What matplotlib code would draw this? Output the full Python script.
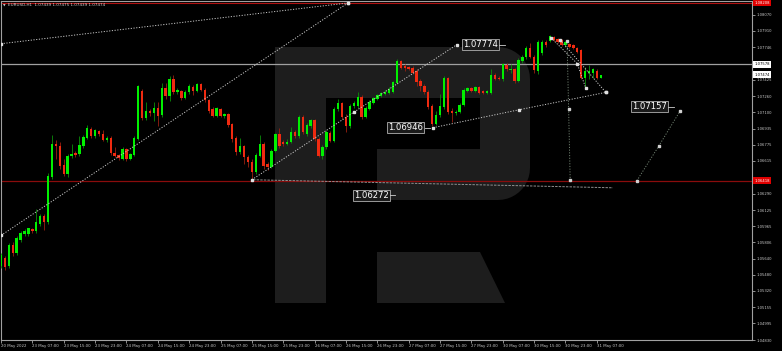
import matplotlib
matplotlib.use("Agg")
import matplotlib.pyplot as plt
import numpy as np
from matplotlib.patches import Polygon
from matplotlib.transforms import blended_transform_factory

# EURUSD H1, bars from 20 May 23:00 to 31 May 08:00
opens = [
    1.05565, 1.05645, 1.05565, 1.05773, 1.05694, 1.05823, 1.05882, 1.05882, 1.05932, 1.05912,
    1.05991, 1.06070, 1.06011, 1.06456, 1.06783, 1.06763, 1.06575, 1.06486, 1.06664, 1.06694,
    1.06684, 1.06763, 1.06842, 1.06932, 1.06862, 1.06912, 1.06882, 1.06823, 1.06842, 1.06694,
    1.06674, 1.06635, 1.06734, 1.06635, 1.06674, 1.06833, 1.07308, 1.07040, 1.07110, 1.07090,
    1.07139, 1.07070, 1.07337, 1.07258, 1.07427, 1.07298, 1.07308, 1.07238, 1.07298, 1.07347,
    1.07308, 1.07377, 1.07318, 1.07219, 1.07130, 1.07060, 1.07130, 1.07060, 1.07080, 1.06981,
    1.06842, 1.06704, 1.06763, 1.06654, 1.06605, 1.06506, 1.06664, 1.06783, 1.06585, 1.06555,
    1.06714, 1.06882, 1.06803, 1.06783, 1.06803, 1.06902, 1.06862, 1.07050, 1.06882, 1.06961,
    1.07021, 1.06833, 1.06664, 1.06753, 1.06892, 1.06813, 1.07130, 1.07189, 1.07050, 1.06961,
    1.07159, 1.07159, 1.07248, 1.07050, 1.07130, 1.07189, 1.07229, 1.07258, 1.07278, 1.07288,
    1.07298, 1.07387, 1.07615, 1.07565, 1.07555, 1.07545, 1.07506, 1.07407, 1.07357, 1.07298,
    1.07159, 1.06981, 1.07070, 1.07149, 1.07446, 1.07110, 1.07090, 1.07100, 1.07169, 1.07308,
    1.07337, 1.07308, 1.07347, 1.07308, 1.07288, 1.07288, 1.07476, 1.07446, 1.07427, 1.07575,
    1.07516, 1.07535, 1.07407, 1.07615, 1.07654, 1.07743, 1.07654, 1.07506, 1.07694, 1.07803,
    1.07813, 1.07852, 1.07832, 1.07823, 1.07773, 1.07783, 1.07773, 1.07743, 1.07724, 1.07446,
    1.07496, 1.07496, 1.07506, 1.07439]
highs = [
    1.05694, 1.05664, 1.05793, 1.05803, 1.05862, 1.05912, 1.05932, 1.05951, 1.05942, 1.06140,
    1.06090, 1.06090, 1.06496, 1.06872, 1.06823, 1.06803, 1.06635, 1.06684, 1.06783, 1.06714,
    1.06862, 1.06872, 1.06971, 1.06951, 1.06932, 1.06922, 1.06922, 1.06862, 1.06862, 1.06753,
    1.06684, 1.06753, 1.06743, 1.06694, 1.06862, 1.07367, 1.07328, 1.07199, 1.07130, 1.07199,
    1.07199, 1.07387, 1.07387, 1.07466, 1.07476, 1.07337, 1.07318, 1.07318, 1.07377, 1.07367,
    1.07387, 1.07387, 1.07337, 1.07229, 1.07149, 1.07149, 1.07139, 1.07090, 1.07090, 1.06991,
    1.06862, 1.06842, 1.06773, 1.06674, 1.06635, 1.06694, 1.06872, 1.06803, 1.06605, 1.06734,
    1.06892, 1.06941, 1.06823, 1.06833, 1.06951, 1.06922, 1.07070, 1.07070, 1.06991, 1.07031,
    1.07031, 1.06852, 1.06773, 1.06922, 1.06912, 1.07149, 1.07229, 1.07199, 1.07080, 1.07179,
    1.07209, 1.07298, 1.07268, 1.07159, 1.07219, 1.07248, 1.07278, 1.07298, 1.07318, 1.07347,
    1.07407, 1.07634, 1.07625, 1.07585, 1.07565, 1.07565, 1.07526, 1.07436, 1.07377, 1.07318,
    1.07179, 1.07110, 1.07278, 1.07466, 1.07456, 1.07139, 1.07120, 1.07189, 1.07337, 1.07347,
    1.07347, 1.07357, 1.07357, 1.07318, 1.07318, 1.07526, 1.07496, 1.07466, 1.07595, 1.07595,
    1.07585, 1.07545, 1.07644, 1.07674, 1.07763, 1.07793, 1.07674, 1.07823, 1.07823, 1.07823,
    1.07872, 1.07862, 1.07842, 1.07832, 1.07813, 1.07793, 1.07783, 1.07753, 1.07733, 1.07555,
    1.07575, 1.07545, 1.07526, 1.07475]
lows = [
    1.05546, 1.05526, 1.05546, 1.05664, 1.05674, 1.05803, 1.05862, 1.05862, 1.05892, 1.05892,
    1.05971, 1.05922, 1.05991, 1.06437, 1.06635, 1.06536, 1.06466, 1.06456, 1.06644, 1.06654,
    1.06664, 1.06743, 1.06833, 1.06842, 1.06842, 1.06862, 1.06813, 1.06803, 1.06674, 1.06654,
    1.06625, 1.06625, 1.06615, 1.06625, 1.06664, 1.06823, 1.07021, 1.07021, 1.07060, 1.07011,
    1.06961, 1.07050, 1.07229, 1.07209, 1.07278, 1.07278, 1.07219, 1.07229, 1.07278, 1.07268,
    1.07298, 1.07308, 1.07199, 1.07090, 1.07050, 1.07050, 1.07050, 1.07040, 1.06951, 1.06803,
    1.06674, 1.06684, 1.06585, 1.06555, 1.06427, 1.06486, 1.06654, 1.06536, 1.06526, 1.06545,
    1.06704, 1.06743, 1.06763, 1.06773, 1.06793, 1.06842, 1.06842, 1.06882, 1.06862, 1.06941,
    1.06813, 1.06654, 1.06635, 1.06734, 1.06803, 1.06803, 1.07110, 1.07031, 1.06902, 1.06941,
    1.07139, 1.07139, 1.07031, 1.07040, 1.07120, 1.07179, 1.07219, 1.07248, 1.07268, 1.07278,
    1.07288, 1.07377, 1.07526, 1.07506, 1.07516, 1.07486, 1.07357, 1.07308, 1.07278, 1.07130,
    1.06961, 1.06971, 1.07050, 1.07130, 1.07080, 1.07001, 1.07070, 1.07090, 1.07159, 1.07298,
    1.07298, 1.07298, 1.07278, 1.07278, 1.07278, 1.07278, 1.07417, 1.07417, 1.07407, 1.07506,
    1.07496, 1.07387, 1.07397, 1.07595, 1.07634, 1.07644, 1.07496, 1.07486, 1.07674, 1.07753,
    1.07803, 1.07813, 1.07793, 1.07763, 1.07753, 1.07743, 1.07733, 1.07694, 1.07427, 1.07337,
    1.07427, 1.07446, 1.07427, 1.07439]
closes = [
    1.05674, 1.05555, 1.05773, 1.05694, 1.05843, 1.05892, 1.05912, 1.05942, 1.05912, 1.06011,
    1.06070, 1.06011, 1.06466, 1.06783, 1.06763, 1.06565, 1.06486, 1.06664, 1.06684, 1.06674,
    1.06773, 1.06852, 1.06941, 1.06862, 1.06922, 1.06882, 1.06823, 1.06842, 1.06694, 1.06664,
    1.06644, 1.06734, 1.06635, 1.06684, 1.06842, 1.07357, 1.07040, 1.07110, 1.07090, 1.07139,
    1.07060, 1.07337, 1.07258, 1.07427, 1.07298, 1.07318, 1.07238, 1.07298, 1.07357, 1.07308,
    1.07377, 1.07318, 1.07219, 1.07110, 1.07060, 1.07139, 1.07060, 1.07080, 1.06971, 1.06833,
    1.06704, 1.06763, 1.06654, 1.06605, 1.06506, 1.06674, 1.06783, 1.06565, 1.06555, 1.06714,
    1.06882, 1.06763, 1.06783, 1.06803, 1.06902, 1.06862, 1.07050, 1.06902, 1.06971, 1.07021,
    1.06833, 1.06664, 1.06753, 1.06902, 1.06813, 1.07130, 1.07189, 1.07050, 1.06961, 1.07159,
    1.07189, 1.07248, 1.07050, 1.07139, 1.07199, 1.07238, 1.07268, 1.07288, 1.07298, 1.07328,
    1.07397, 1.07615, 1.07545, 1.07545, 1.07535, 1.07496, 1.07397, 1.07357, 1.07298, 1.07149,
    1.06981, 1.07070, 1.07159, 1.07446, 1.07100, 1.07090, 1.07100, 1.07169, 1.07318, 1.07337,
    1.07308, 1.07347, 1.07288, 1.07288, 1.07308, 1.07476, 1.07436, 1.07427, 1.07585, 1.07526,
    1.07535, 1.07407, 1.07625, 1.07654, 1.07743, 1.07654, 1.07516, 1.07803, 1.07803, 1.07773,
    1.07862, 1.07823, 1.07803, 1.07773, 1.07803, 1.07753, 1.07743, 1.07704, 1.07446, 1.07506,
    1.07506, 1.07526, 1.07446, 1.07474]

time_labels = ['20 May 2022', '23 May 07:00', '23 May 15:00', '23 May 23:00', '24 May 07:00',
               '24 May 15:00', '24 May 23:00', '25 May 07:00', '25 May 15:00', '25 May 23:00',
               '26 May 07:00', '26 May 15:00', '26 May 23:00', '27 May 07:00', '27 May 15:00',
               '27 May 23:00', '30 May 07:00', '30 May 15:00', '30 May 23:00', '31 May 07:00']
label_step = 8

price_ticks = [1.08070, 1.07910, 1.07746, 1.07425, 1.07260, 1.07100, 1.06935, 1.06775,
               1.06615, 1.06290, 1.06125, 1.05965, 1.05806, 1.05640, 1.05480, 1.05320,
               1.05155, 1.04995, 1.04830]

title = 'EURUSD,H1  1.07439 1.07475 1.07439 1.07474'
top_level = 1.08190
top_label = '1.08208'
grey_level = 1.07578
red_level = 1.06418
bid = 1.07474

# analysis lines: (bar index, price)
line_a = ([0, 88.5], [1.07783, 1.08189])
line_b = ([0, 88.5], [1.05872, 1.08189])
line_c = ([64.0, 90.0, 116.3], [1.06427, 1.07100, 1.07774])
line_d = ([110.2, 132.2, 154.3], [1.06946, 1.07125, 1.07298])
line_e = ([140.3, 147.0, 149.2], [1.07842, 1.07585, 1.07337])
line_f = ([142.6, 154.3], [1.07823, 1.07298])
line_g = ([144.4, 144.8, 145.2], [1.07813, 1.07130, 1.06427])
line_h = ([162.2, 167.8, 173.2], [1.06417, 1.06763, 1.07110])
line_i = ([64.3, 156.1], [1.06427, 1.06347])

tag_values = [1.07774, 1.06946, 1.06272, 1.07157]
tag_bars = [122.3, 103.3, 94.4, 165.4]

W, H = 782, 351
fig = plt.figure(figsize=(W / 100, H / 100), dpi=100, facecolor='black')

# watermark logo in pixel space
bg = fig.add_axes([0, 0, 1, 1])
bg.set_xlim(0, W)
bg.set_ylim(H, 0)
bg.axis('off')
logo = '#1d1d1d'
bg.add_patch(Polygon([(275, 47), (326, 47), (326, 303), (275, 303)], color=logo, lw=0))
r = 32
t1 = np.linspace(np.pi / 2, 0, 12)
t2 = np.linspace(0, -np.pi / 2, 12)
bowl = [(326, 47)]
bowl += [(498 + r * np.cos(t), 79 - r * np.sin(t)) for t in t1]
bowl += [(498 + r * np.cos(t), 168 - r * np.sin(t)) for t in t2]
bowl += [(377, 200), (377, 149), (480, 149), (480, 98), (326, 98)]
bg.add_patch(Polygon(bowl, color=logo, lw=0))
bg.add_patch(Polygon([(377, 252), (480, 252), (505, 303), (377, 303)], color=logo, lw=0))

ax = fig.add_axes([1 / W, 11 / H, 751 / W, 339 / H])
ax.set_facecolor('none')
ax.set_xlim(0, 191.58)
ax.set_ylim(1.048525, 1.082086)

n = len(opens)
x = np.arange(n)
o = np.array(opens)
c = np.array(closes)
up = c >= o
body_col = np.where(up, '#00f000', '#f02a10')
wick_col = np.where(up, '#0a8f0a', '#9a2010')

ax.vlines(x, lows, highs, colors=wick_col, lw=0.6, zorder=3)
ax.bar(x, np.maximum(np.abs(c - o), 0.00003), bottom=np.minimum(o, c), width=0.62,
       color=body_col, lw=0, zorder=4)

# horizontal levels
ax.axhline(top_level, color='#b01010', lw=0.8, zorder=2)
ax.axhline(grey_level, color='#a0a0a0', lw=0.9, zorder=2)
ax.axhline(red_level, color='#8a0c0c', lw=0.9, zorder=2)

dot = (0, (1.2, 1.6))
light = '#c8c8c8'
for ln in [line_a, line_b, line_c, line_d, line_e, line_f]:
    ax.plot(ln[0], ln[1], color=light, lw=0.7, ls=dot, zorder=5)
    ax.plot(ln[0], ln[1], ls='none', marker='s', ms=1.6, color='#e0e0e0', zorder=6)
ax.plot(line_g[0], line_g[1], color='#6f7f6f', lw=0.7, ls=dot, zorder=5)
ax.plot(line_g[0], line_g[1], ls='none', marker='s', ms=1.5, color='#d0d0d0', zorder=6)
ax.plot(line_h[0], line_h[1], color='#6f7f6f', lw=0.7, ls=dot, zorder=5)
ax.plot(line_h[0], line_h[1], ls='none', marker='s', ms=1.5, color='#d0d0d0', zorder=6)
ax.plot(line_i[0], line_i[1], color='#909090', lw=0.7, ls=(0, (2.5, 1.2)), zorder=5)

for v, b in zip(tag_values, tag_bars):
    ax.text(b, v, f'{v:.5f}', color='white', fontsize=6.1, ha='center', va='center',
            zorder=8, bbox=dict(boxstyle='square,pad=0.12', fc='#1a1a1a', ec='#b0b0b0', lw=0.6))
    ax.plot([b + 4.8, b + 6.2], [v, v], color='#d0d0d0', lw=0.6, zorder=8)

# axes styling
for s in ax.spines.values():
    s.set_color('#a0a0a0')
    s.set_linewidth(0.8)
ax.yaxis.tick_right()
ax.set_yticks(price_ticks)
ax.set_yticklabels([f'{v:.5f}' for v in price_ticks])
ax.tick_params(axis='y', colors='#c8c8c8', labelsize=2.7, length=2, width=0.5, pad=1.2)
ax.set_xticks(np.arange(len(time_labels)) * label_step)
ax.set_xticklabels(time_labels)
ax.tick_params(axis='x', colors='#c8c8c8', labelsize=2.8, length=2.2, width=0.5, pad=0.6)
for lbl in ax.get_xticklabels():
    lbl.set_ha('left')

tr = blended_transform_factory(ax.transAxes, ax.transData)
ax.text(1.003, top_level, top_label, transform=tr, fontsize=2.7, color='white', va='center',
        bbox=dict(boxstyle='square,pad=0.35', fc='#e00000', ec='none'), zorder=9, clip_on=False)
ax.text(1.003, grey_level, f'{grey_level:.5f}', transform=tr, fontsize=2.7, color='black',
        va='center', bbox=dict(boxstyle='square,pad=0.35', fc='white', ec='none'), zorder=9, clip_on=False)
ax.text(1.003, bid, f'{bid:.5f}', transform=tr, fontsize=2.7, color='black', va='center',
        bbox=dict(boxstyle='square,pad=0.35', fc='white', ec='none'), zorder=9, clip_on=False)
ax.text(1.003, red_level, f'{red_level:.5f}', transform=tr, fontsize=2.7, color='white',
        va='center', bbox=dict(boxstyle='square,pad=0.35', fc='#e00000', ec='none'), zorder=9, clip_on=False)

fig.text(3 / W, 1 - 5.5 / H, '▼', fontsize=2.4, color='#d0d0d0', va='center')
fig.text(8 / W, 1 - 5.5 / H, title, fontsize=3.0, color='#d0d0d0', va='center')

fig.savefig('out.png', dpi=100, facecolor='black')
